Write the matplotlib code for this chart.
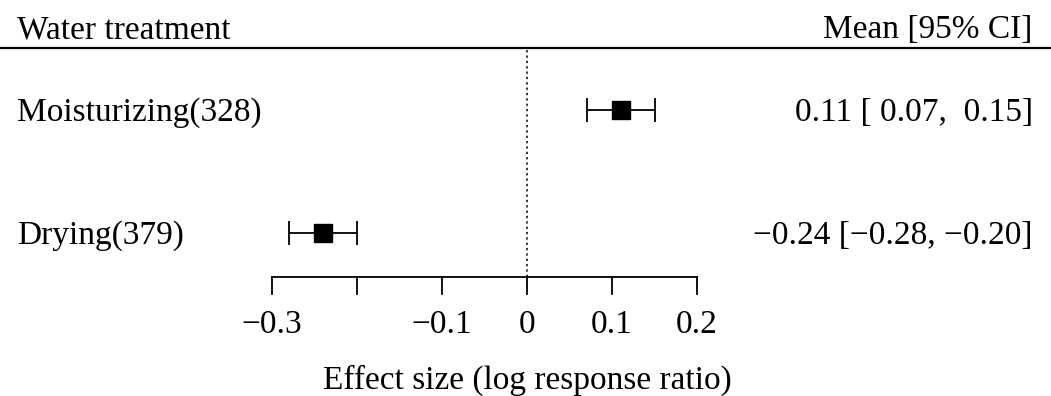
import matplotlib
matplotlib.use("Agg")
import matplotlib.pyplot as plt

plt.rcParams["font.family"] = ["Liberation Serif", "DejaVu Serif"]

# data
labels = ["Moisturizing(328)", "Drying(379)"]
means = [0.11, -0.24]
lower = [0.07, -0.28]
upper = [0.15, -0.20]
ci_text = ["0.11 [ 0.07,  0.15]", "\u22120.24 [\u22120.28, \u22120.20]"]
ticks = [-0.3, -0.2, -0.1, 0.0, 0.1, 0.2]
tick_labels = ["\u22120.3", "", "\u22120.1", "0", "0.1", "0.2"]

rows = [2, 1]
fs = 24

fig = plt.figure(figsize=(10.51, 3.96), dpi=100)
ax = fig.add_axes([0, 0, 1, 1])
ax.set_xlim(-527 / 850, (1051 - 527) / 850)
ax.set_ylim(1 - 163 / 123, 2 + 110 / 123)
ax.axis("off")

y_head = 2 + 62 / 123
y_axis = 1 - 44 / 123
tick_len = 17 / 123
x_left = -0.6
x_right = 0.595
dy = -3 / 123  # nudge text down a little

# header
ax.text(x_left, 2 + 83 / 123 + dy, "Water treatment", fontsize=fs, ha="left", va="center")
ax.text(x_right, 2 + 83 / 123 + dy, "Mean [95% CI]", fontsize=fs, ha="right", va="center")
ax.plot([-0.7, 0.7], [y_head, y_head], color="black", lw=1.6, clip_on=False)

# reference line
ax.plot([0, 0], [y_axis, y_head], color="black", lw=1.1, ls=(0, (1.5, 2)))

# rows
for y, lab, m, lo, hi, txt in zip(rows, labels, means, lower, upper, ci_text):
    ax.errorbar(m, y, xerr=[[m - lo], [hi - m]], fmt="s", color="black",
                ms=13.5, capsize=8.5, elinewidth=1.3, capthick=1.3)
    ax.text(x_left, y + dy, lab, fontsize=fs, ha="left", va="center")
    ax.text(x_right, y + dy, txt, fontsize=fs, ha="right", va="center")

# x axis
ax.plot([ticks[0], ticks[-1]], [y_axis, y_axis], color="black", lw=1.3)
for t, tl in zip(ticks, tick_labels):
    ax.plot([t, t], [y_axis, y_axis - tick_len], color="black", lw=1.3)
    ax.text(t, y_axis - 45 / 123 + dy, tl, fontsize=fs, ha="center", va="center")
ax.text(0, y_axis - 100 / 123 + dy, "Effect size (log response ratio)",
        fontsize=fs, ha="center", va="center")

fig.savefig("out.png", dpi=100)
